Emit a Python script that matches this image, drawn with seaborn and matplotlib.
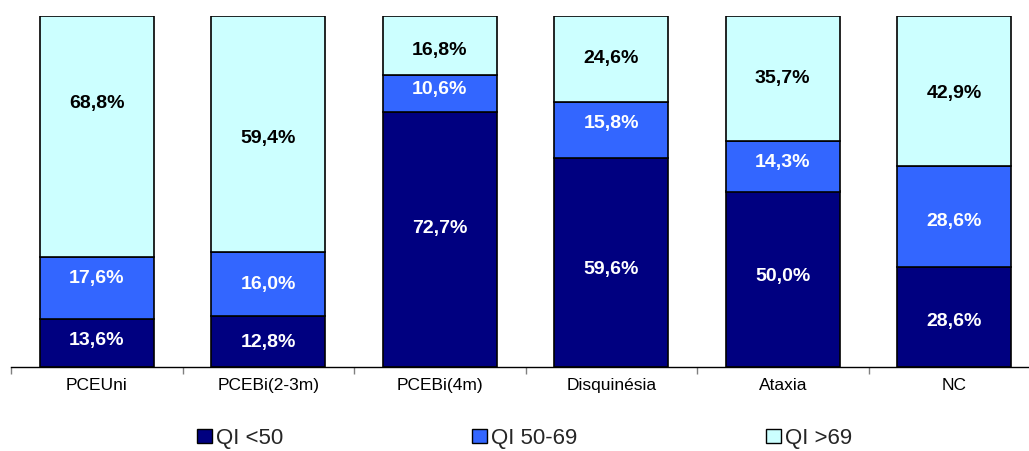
import matplotlib
matplotlib.use("Agg")
import matplotlib.pyplot as plt
from matplotlib.patches import Patch
from matplotlib.ticker import FixedLocator
import numpy as np
import pandas as pd
import seaborn as sns

# Data: share of each QI band per clinical group (%)
categories = ["PCEUni", "PCEBi(2-3m)", "PCEBi(4m)", "Disquinésia", "Ataxia", "NC"]
qi_below_50 = [13.6, 12.8, 72.7, 59.6, 50.0, 28.6]
qi_50_69 = [17.6, 16.0, 10.6, 15.8, 14.3, 28.6]
qi_above_69 = [68.8, 59.4, 16.8, 24.6, 35.7, 42.9]
series_names = ["QI <50", "QI 50-69", "QI >69"]

# Styling
colors = ["#000080", "#3366FF", "#CCFFFF"]
text_colors = ["white", "white", "black"]
# vertical nudge of each value label, in pixels (positive = down)
label_nudge_px = [
    [-5, -2, -14, 5, -5, 2],
    [-12, -2, -6, -9, -6, 2],
    [-36, 2, 3, -3, -3, 0],
]

sns.set_theme(style="white")
plt.rcParams["font.family"] = ["Liberation Sans", "DejaVu Sans"]

values = np.array([qi_below_50, qi_50_69, qi_above_69])
shares = values / values.sum(axis=0) * 100  # each column stacked to 100 %
bottoms = np.vstack([np.zeros(len(categories)), np.cumsum(shares, axis=0)[:-1]])

fig = plt.figure(figsize=(10.29, 4.51), dpi=100, facecolor="white")
ax = fig.add_axes([11 / 1029, 84 / 451, 1.0, 351 / 451])

for i in range(len(series_names)):
    df = pd.DataFrame({"grupo": categories, "share": shares[i]})
    sns.barplot(data=df, x="grupo", y="share", order=categories,
                bottom=bottoms[i], color=colors[i], saturation=1,
                width=0.665, edgecolor="black", linewidth=1.2,
                errorbar=None, ax=ax)

# Value labels, written with a decimal comma
for i in range(len(series_names)):
    for j in range(len(categories)):
        y = bottoms[i][j] + shares[i][j] / 2
        txt = f"{values[i][j]:.1f}".replace(".", ",") + "%"
        ax.annotate(txt, xy=(j, y),
                    xytext=(0, -(label_nudge_px[i][j] + 7) * 0.72),
                    textcoords="offset points", ha="center", va="baseline",
                    fontsize=14, fontweight="bold", color=text_colors[i])

ax.set_xlim(-0.5, len(categories) - 0.5)
ax.set_ylim(0, 100)
ax.set_xlabel("")
ax.set_ylabel("")
ax.set_yticks([])
for side in ["left", "top", "right"]:
    ax.spines[side].set_visible(False)
ax.spines["bottom"].set_color("black")
ax.spines["bottom"].set_linewidth(1.0)

ax.xaxis.set_minor_locator(FixedLocator(np.arange(-0.5, len(categories), 1.0)))
ax.tick_params(axis="x", which="major", length=0, pad=8, labelsize=12.5,
               labelcolor="black")
ax.tick_params(axis="x", which="minor", length=5, width=1, color="#808080",
               direction="out", bottom=True)

handles = [Patch(facecolor=c, edgecolor="black", linewidth=1.0) for c in colors]
fig.legend(handles, series_names, loc="center", bbox_to_anchor=(0.51, 0.028),
           ncol=3, frameon=False, fontsize=16, handlelength=0.65,
           handleheight=0.65, handletextpad=0.2, columnspacing=8.5,
           borderaxespad=0, borderpad=0)

fig.savefig("out.png", dpi=100, facecolor="white")
